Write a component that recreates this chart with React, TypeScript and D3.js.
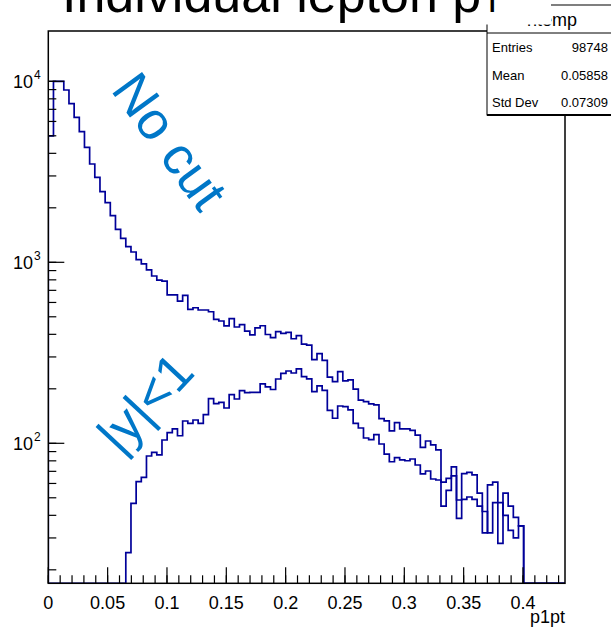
import React from "react";
import * as d3 from "d3";

// ---- data ----
const nBins = 100;
const xMin = 0;
const xMax = 0.4354;

const noCut = [
  5000, 10000, 10000, 8950, 7520, 6325, 5266, 4317, 3493, 2949,
  2455, 2134, 1809, 1522, 1357, 1220, 1140, 1034, 979, 907,
  840, 798, 788, 660, 660, 611, 657, 550, 561, 545,
  545, 533, 484, 474, 445, 489, 439, 453, 417, 397,
  434, 446, 399, 384, 414, 405, 410, 378, 393, 353,
  349, 290, 313, 287, 232, 219, 249, 221, 224, 199,
  173, 170, 165, 163, 137, 133, 117, 130, 120, 120,
  118, 111, 95, 103, 98, 92, 45, 55, 74, 38.5,
  68, 69, 67, 53, 32, 59, 61, 28, 53, 45,
  39, 35, 0, 0, 0, 0, 0, 0, 0, 0,
];

const yCut = [
  0, 0, 0, 0, 0, 0, 0, 0, 0, 0,
  0, 0, 0, 0, 0, 24.9, 46.6, 61.4, 64.9, 85.1,
  89.2, 86.2, 104.3, 114.4, 120, 110.1, 132.8, 129, 134.5, 129,
  144.2, 176.4, 165.5, 168.5, 156.7, 185.6, 175.7, 195.3, 190.4, 191,
  191, 212.7, 205.2, 198.3, 226.6, 243.6, 250.9, 244.6, 258, 233.3,
  227.2, 192.8, 207.8, 196.3, 152.2, 137.5, 160.7, 159.3, 152.8, 129,
  121.5, 107, 104.7, 111.8, 99.1, 87.1, 79.1, 83.3, 80.9, 80.1,
  81.9, 75.9, 67.7, 70.3, 63.5, 62.7, 61, 64, 66, 48.6,
  49, 50.5, 49, 45, 42, 32, 47, 47, 40, 33,
  30, 35, 0, 0, 0, 0, 0, 0, 0, 0,
];

const xTickLabels = ["0", "0.05", "0.1", "0.15", "0.2", "0.25", "0.3", "0.35", "0.4"];
const yDecades = [2, 3, 4];
const statsRows = [
  ["Entries", "98748"],
  ["Mean", "0.05858"],
  ["Std Dev", "0.07309"],
];

const W = 611;
const H = 630;
const frame = { left: 48.3, right: 565, top: 31, bottom: 583.3 };
const FONT = "'Liberation Sans', Arial, Helvetica, sans-serif";
const histColor = "#000099";
const textBlue = "#0077c8";

export default function App() {
  const x = d3.scaleLinear().domain([xMin, xMax]).range([frame.left, frame.right]);
  const yMinV = Math.pow(10, 2 - (frame.bottom - 443.3) / 181);
  const yMaxV = Math.pow(10, 2 + (443.3 - frame.top) / 181);
  const y = d3.scaleLog().domain([yMinV, yMaxV]).range([frame.bottom, frame.top]);
  const bw = (xMax - xMin) / nBins;

  const histPath = (vals: number[]) => {
    const p = d3.path();
    p.moveTo(x(xMin), frame.bottom);
    vals.forEach((v, i) => {
      const yy = v > 0 ? y(v) : frame.bottom;
      p.lineTo(x(xMin + i * bw), yy);
      p.lineTo(x(xMin + (i + 1) * bw), yy);
    });
    p.lineTo(x(xMax), frame.bottom);
    return p.toString();
  };

  const xMajor = d3.range(0, 9).map((i) => i * 0.05);
  const xMinor = d3.range(0, 44).map((i) => i * 0.01).filter((v) => v <= xMax + 1e-9);
  const yMinor: number[] = [];
  for (let d = 1; d <= 4; d++) {
    for (let m = 1; m <= 9; m++) {
      const v = m * Math.pow(10, d);
      if (v >= yMinV && v <= yMaxV) yMinor.push(v);
    }
  }

  return (
    <svg width={W} height={H} style={{ position: "absolute", left: 0, top: 0, background: "#fff" }}>
      <rect x={0} y={0} width={W} height={H} fill="#fff" />
      <defs>
        <clipPath id="frameClip">
          <rect x={frame.left} y={frame.top} width={frame.right - frame.left} height={frame.bottom - frame.top} />
        </clipPath>
      </defs>

      <g clipPath="url(#frameClip)" fill="none" stroke={histColor} strokeWidth={1.7} strokeLinejoin="miter">
        <path d={histPath(noCut)} />
        <path d={histPath(yCut)} />
      </g>

      <rect x={frame.left} y={frame.top} width={frame.right - frame.left} height={frame.bottom - frame.top}
        fill="none" stroke="#000" strokeWidth={1.5} />

      <g stroke="#000" strokeWidth={1.2}>
        {xMinor.map((v, i) => (
          <line key={"xm" + i} x1={x(v)} x2={x(v)} y1={frame.bottom} y2={frame.bottom - 8} />
        ))}
        {xMajor.map((v, i) => (
          <line key={"xM" + i} x1={x(v)} x2={x(v)} y1={frame.bottom} y2={frame.bottom - 16} />
        ))}
        {yMinor.map((v, i) => (
          <line key={"ym" + i} x1={frame.left} x2={frame.left + 8} y1={y(v)} y2={y(v)} />
        ))}
        {yDecades.map((d) => (
          <line key={"yM" + d} x1={frame.left} x2={frame.left + 16} y1={y(Math.pow(10, d))} y2={y(Math.pow(10, d))} />
        ))}
      </g>

      <g fontFamily={FONT} fontSize={18} textAnchor="middle" fill="#000">
        {xTickLabels.map((t, i) => (
          <text key={t} x={x(i * 0.05)} y={609}>{t}</text>
        ))}
      </g>
      <text x={frame.right} y={623} fontFamily={FONT} fontSize={18} textAnchor="end">p1pt</text>

      <g fontFamily={FONT} fill="#000">
        {yDecades.map((d) => (
          <text key={"yl" + d} x={33} y={y(Math.pow(10, d)) + 7} fontSize={18} textAnchor="end">
            10
          </text>
        ))}
        {yDecades.map((d) => (
          <text key={"ys" + d} x={34} y={y(Math.pow(10, d)) - 2} fontSize={12} textAnchor="start">
            {d}
          </text>
        ))}
      </g>

      <text transform="translate(110,90) rotate(54)" fontFamily={FONT} fontSize={53} fill={textBlue}>No cut</text>
      <text transform="translate(120,456) rotate(-47)" fontFamily={FONT} fontSize={52} fill={textBlue}>|y|&lt;1</text>

      <rect x={487} y={5} width={140} height={110} fill="#fff" stroke="#000" strokeWidth={1} />
      <line x1={487} x2={611} y1={115} y2={115} stroke="#000" strokeWidth={2} />
      <line x1={487} x2={611} y1={33} y2={33} stroke="#000" strokeWidth={1} />
      <text x={552} y={26} fontFamily={FONT} fontSize={18} textAnchor="middle">htemp</text>
      {statsRows.map((r, i) => (
        <g key={r[0]} fontFamily={FONT} fontSize={13}>
          <text x={492} y={52 + i * 27.5}>{r[0]}</text>
          <text x={608} y={52 + i * 27.5} textAnchor="end">{r[1]}</text>
        </g>
      ))}

      <rect x={0} y={0} width={551} height={24.5} fill="#fff" />
      <text x={62} y={12} fontFamily={FONT} fontSize={52} fill="#000">
        Individual lepton p
        <tspan fontSize={36} dy={0}>T</tspan>
      </text>
    </svg>
  );
}
